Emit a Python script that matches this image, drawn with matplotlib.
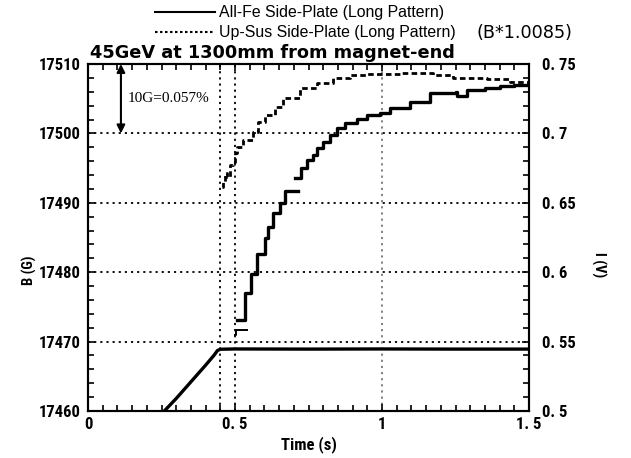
import numpy as np
import matplotlib
matplotlib.use("Agg")
import matplotlib.pyplot as plt
from matplotlib.lines import Line2D
from matplotlib import font_manager as fm

# ---------------- data ----------------
# All-Fe Side-Plate (solid), three overlapping step pieces
fe_x1 = [0.500, 0.505, 0.540]
fe_b1 = [17471.0, 17471.7, 17471.7]

fe_x2 = [0.507, 0.534, 0.555, 0.575, 0.602, 0.612, 0.630, 0.653, 0.670, 0.714]
fe_b2 = [17473.1, 17477.0, 17479.7, 17482.6, 17484.9, 17486.5, 17488.5, 17490.0, 17491.7, 17491.7]

fe_x3 = [0.704, 0.725, 0.745, 0.766, 0.780, 0.800, 0.823, 0.846, 0.874, 0.914,
         0.950, 0.993, 1.027, 1.095, 1.163, 1.250, 1.255, 1.290, 1.350, 1.400,
         1.450, 1.500]
fe_b3 = [17493.6, 17495.0, 17496.2, 17496.9, 17497.9, 17498.8, 17499.8, 17500.8, 17501.5, 17502.1,
         17502.7, 17502.9, 17503.7, 17504.5, 17505.8, 17506.0, 17505.4, 17506.3, 17506.6, 17506.8,
         17507.0, 17507.2]

# Up-Sus Side-Plate (dashed), scaled B*1.0085
sus_x = [0.456, 0.459, 0.466, 0.473, 0.483, 0.493, 0.500, 0.507, 0.527, 0.561,
         0.578, 0.602, 0.636, 0.663, 0.721, 0.779, 0.833, 0.891, 0.949, 1.003,
         1.061, 1.173, 1.240, 1.357, 1.435, 1.497]
sus_b = [17492.3, 17493.0, 17494.3, 17493.7, 17495.4, 17495.9, 17497.2, 17498.0, 17499.0, 17500.2,
         17501.6, 17502.6, 17503.8, 17505.1, 17506.5, 17507.3, 17508.0, 17508.4, 17508.6, 17508.6,
         17508.7, 17508.4, 17508.0, 17507.9, 17507.4, 17507.2]

# Current I (V)
cur_t = [0.255, 0.30, 0.35, 0.40, 0.43, 0.44, 0.45, 0.50, 0.75, 1.00, 1.25, 1.50]
cur_i = [0.4990, 0.5090, 0.5210, 0.5330, 0.5405, 0.5435, 0.5445, 0.5447, 0.5446, 0.5447, 0.5446, 0.5446]

xticks = [0, 0.5, 1.0, 1.5]
xticklabels = ["0", "0. 5", "1", "1. 5"]
bticks = [17460, 17470, 17480, 17490, 17500, 17510]
iticks = [0.5, 0.55, 0.6, 0.65, 0.7, 0.75]
iticklabels = ["0. 5", "0. 55", "0. 6", "0. 65", "0. 7", "0. 75"]
vlines = [0.45, 0.5]

# ---------------- narrow font selection ----------------
names = {f.name for f in fm.fontManager.ttflist}
tick_fp = None
for cand in ['Liberation Sans Narrow', 'Arial Narrow', 'DejaVu Sans Condensed', 'Roboto Condensed']:
    if cand in names:
        tick_fp = dict(family=cand)
        break
if tick_fp is None:
    cfiles = [f.fname for f in fm.fontManager.ttflist if 'Condensed' in f.fname and 'Bold' in f.fname
              and 'Oblique' not in f.fname and 'Italic' not in f.fname]
    if cfiles:
        tick_fp = dict(fname=cfiles[0])
if tick_fp is None:
    tick_fp = dict(family='DejaVu Sans', stretch='condensed')


def tfp(size, bold=True):
    if 'fname' in tick_fp:
        return fm.FontProperties(fname=tick_fp['fname'], size=size)
    return fm.FontProperties(family=tick_fp['family'], size=size,
                             weight='bold' if bold else 'normal',
                             stretch=tick_fp.get('stretch', 'normal'))

# ---------------- figure ----------------
fig = plt.figure(figsize=(6.31, 4.58), dpi=100)
ax = fig.add_axes([88/631, 1-411/458, (529-88)/631, (411-64)/458])
ax2 = ax.twinx()

ax.set_xlim(0, 1.5)
ax.set_ylim(17460, 17510)
ax2.set_ylim(0.5, 0.75)

# grid
for b in [17470, 17480, 17490, 17500]:
    ax.axhline(b, color='black', lw=1.3, ls=(0, (1.2, 2.2)), zorder=1)
for v in vlines:
    ax.axvline(v, color='black', lw=1.3, ls=(0, (1.2, 2.2)), zorder=1)
ax.axvline(1.0, color='#777777', lw=1.3, ls=(0, (1.2, 2.2)), zorder=1)

# curves
ax.plot(fe_x1, fe_b1, color='black', lw=1.4, drawstyle='steps-post', zorder=3)
ax.plot(fe_x2, fe_b2, color='black', lw=2.4, drawstyle='steps-post', zorder=3)
ax.plot(fe_x3, fe_b3, color='black', lw=2.4, drawstyle='steps-post', zorder=3)
ax.plot(sus_x, sus_b, color='black', lw=2.0, ls=(0, (2.0, 1.2)), drawstyle='steps-post', zorder=3)
ax2.plot(cur_t, cur_i, color='black', lw=2.4, zorder=3)

# ticks
ax.set_xticks(xticks)
ax.set_xticklabels(xticklabels)
ax.set_xticks(np.arange(0, 1.5001, 0.05), minor=True)
ax.set_yticks(bticks)
ax.set_yticks(np.arange(17460, 17510.1, 2), minor=True)
ax2.set_yticks(iticks)
ax2.set_yticklabels(iticklabels)
ax2.set_yticks(np.arange(0.5, 0.7501, 0.01), minor=True)

ax.tick_params(axis='both', which='both', direction='in', top=True, width=1.2)
ax.tick_params(axis='both', which='major', length=5)
ax.tick_params(axis='both', which='minor', length=4)
ax.tick_params(axis='y', which='both', right=False)
ax2.tick_params(axis='y', which='both', direction='in', width=1.2)
ax2.tick_params(axis='y', which='major', length=5, pad=9)
ax2.tick_params(axis='y', which='minor', length=4)
ax.tick_params(axis='x', pad=4)
ax.tick_params(axis='y', pad=5)

for lab in ax.get_xticklabels() + ax.get_yticklabels() + ax2.get_yticklabels():
    lab.set_fontproperties(tfp(12))

for sp in list(ax.spines.values()) + list(ax2.spines.values()):
    sp.set_linewidth(1.5)

ax.set_xlabel("Time (s)", fontproperties=tfp(12), labelpad=3)
fig.text(29/631, 1-270/458, "B (G)", rotation=90, ha='center', va='center',
         fontproperties=tfp(10.5))
fig.text(599/631, 1-265/458, "I (V)", rotation=-90, ha='center', va='center',
         fontproperties=tfp(10.5))

# arrow annotation
ax.annotate("", xy=(0.112, 17510), xytext=(0.112, 17500),
            arrowprops=dict(arrowstyle='<|-|>', color='black', lw=1.5,
                            mutation_scale=12, shrinkA=0, shrinkB=0))
ax.text(0.135, 17505.0, "10G=0.057%", family=['Liberation Serif'], fontsize=11,
        ha='left', va='center')

# title and legend
fig.text(90/631, 1-53/458, "45GeV at 1300mm from magnet-end", ha='left', va='center',
         family=['DejaVu Sans'], fontsize=12.8, fontweight='bold')
fig.add_artist(Line2D([155/631, 215/631], [1-12/458, 1-12/458], color='black', lw=1.5))
fig.add_artist(Line2D([155/631, 215/631], [1-32/458, 1-32/458], color='black', lw=1.5,
                      ls=(0, (1.2, 1.2))))
fig.text(219/631, 1-12/458, "All-Fe Side-Plate (Long Pattern)", ha='left', va='center',
         family=['Liberation Sans'], fontsize=11.4)
fig.text(219/631, 1-32/458, "Up-Sus Side-Plate (Long Pattern)", ha='left', va='center',
         family=['Liberation Sans'], fontsize=11.4)
fig.text(476/631, 1-33/458, "(B*1.0085)", ha='left', va='center',
         family=['DejaVu Sans'], fontsize=12.7)

fig.savefig("out.png", dpi=100)
